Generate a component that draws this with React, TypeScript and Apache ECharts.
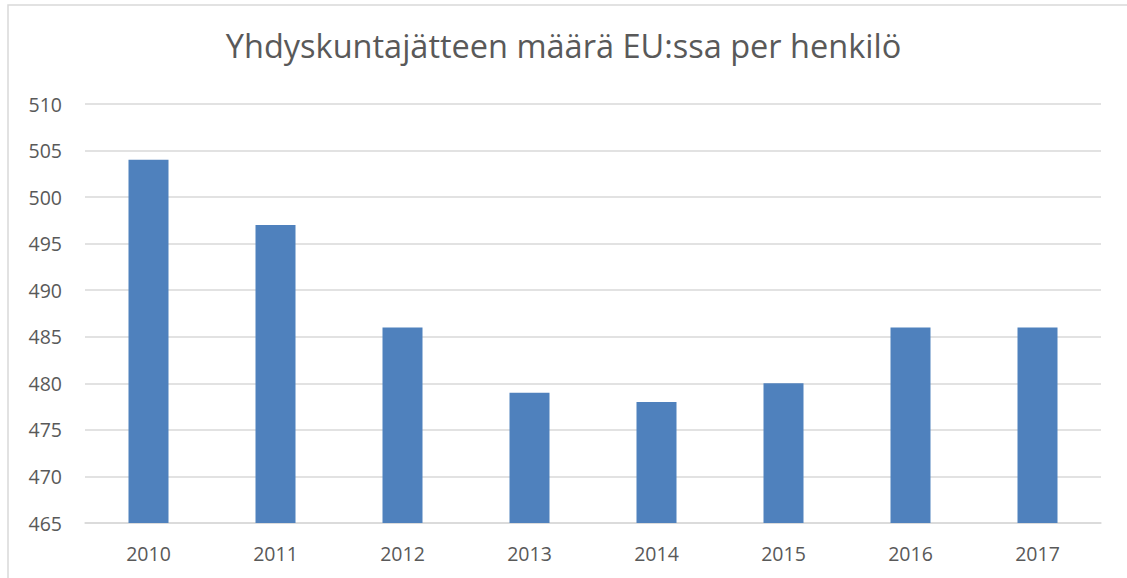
import React, { useEffect, useRef } from "react";
import * as echarts from "echarts";

const title = "Yhdyskuntajätteen määrä EU:ssa per henkilö";
const categories = ["2010", "2011", "2012", "2013", "2014", "2015", "2016", "2017"];
const values = [504, 497, 486, 479, 478, 480, 486, 486];
const yMin = 465;
const yMax = 510;
const yInterval = 5;

export default function App() {
  const ref = useRef<HTMLDivElement>(null);
  useEffect(() => {
    if (!ref.current) return;
    const chart = echarts.init(ref.current, null, { renderer: "svg" });
    chart.setOption({
      animation: false,
      backgroundColor: "#ffffff",
      title: {
        text: title,
        left: "center",
        top: 24,
        textStyle: { fontFamily: "Open Sans", fontSize: 32.5, fontWeight: "normal", color: "#595959" },
      },
      graphic: [
        {
          type: "rect",
          shape: { x: 8, y: 5, width: 1300, height: 800 },
          style: { fill: "none", stroke: "#d9d9d9", lineWidth: 1.5 },
          silent: true,
        },
      ],
      grid: { left: 85, right: 26, top: 104, bottom: 55, containLabel: false },
      xAxis: {
        type: "category",
        data: categories,
        axisLine: { lineStyle: { color: "#d9d9d9", width: 1.5 } },
        axisTick: { show: false },
        axisLabel: { color: "#595959", fontFamily: "Open Sans", fontSize: 19.5, margin: 20 },
      },
      yAxis: {
        type: "value",
        min: yMin,
        max: yMax,
        interval: yInterval,
        axisLine: { show: false },
        axisTick: { show: false },
        splitLine: { lineStyle: { color: "#d9d9d9", width: 1.5 } },
        axisLabel: { color: "#595959", fontFamily: "Open Sans", fontSize: 19.5, margin: 23 },
      },
      series: [
        {
          type: "bar",
          data: values,
          barWidth: "31.5%",
          itemStyle: { color: "#4f81bd" },
        },
      ],
    });
    return () => chart.dispose();
  }, []);
  return <div ref={ref} style={{ position: "fixed", left: 0, top: 0, width: 1127, height: 578 }} />;
}
